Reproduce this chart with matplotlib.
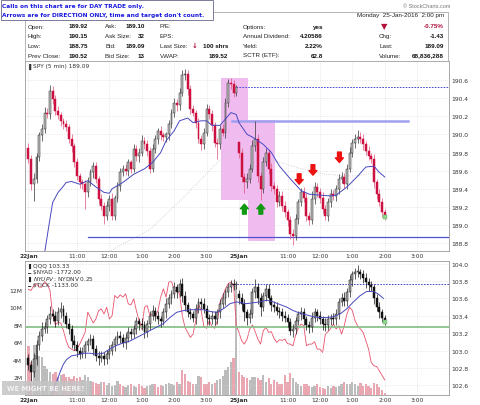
import numpy as np
import matplotlib
matplotlib.use('Agg')
import matplotlib.pyplot as plt
from matplotlib.patches import Rectangle

# ---------------- DATA ----------------
# SPY 5-min closes, 22 Jan (9:30-15:55) and 25 Jan (9:30-14:00)
spy_close_jan22 = [
    189.73, 189.45, 189.51, 189.75, 189.99, 190.06, 190.24, 190.22, 190.48, 190.39,
    190.26, 190.21, 190.15, 190.11, 190.08, 189.95, 189.87, 189.69, 189.54, 189.47,
    189.45, 189.36, 189.47, 189.58, 189.65, 189.51, 189.29, 189.21, 189.10, 189.21,
    189.29, 189.10, 189.30, 189.43, 189.58, 189.62, 189.60, 189.69, 189.62, 189.84,
    189.76, 189.80, 189.93, 189.89, 189.82, 189.62, 189.84, 189.95, 190.04, 189.99,
    189.97, 190.00, 190.11, 190.24, 190.35, 190.32, 190.46, 190.65, 190.67, 190.50,
    190.28, 190.24, 190.13, 189.95, 189.89, 190.02, 190.28, 190.22, 190.10, 189.91,
    189.89, 190.06, 190.02, 190.35, 190.57, 190.56, 190.46, 190.52]
spy_close_jan25 = [
    189.80, 189.53, 189.47, 189.51, 189.62, 189.87, 189.95, 189.54, 189.40, 189.69,
    189.80, 189.62, 189.43, 189.40, 189.25, 189.32, 189.21, 189.14, 189.05, 188.90,
    188.88, 189.07, 189.25, 189.36, 189.30, 189.10, 189.05, 189.29, 189.42, 189.36,
    189.30, 189.18, 189.10, 189.25, 189.34, 189.32, 189.40, 189.51, 189.53, 189.45,
    189.62, 189.80, 189.91, 189.95, 189.97, 189.95, 189.89, 189.82, 189.76, 189.73,
    189.47, 189.34, 189.25, 189.14, 189.09]
spy_day_open = [189.85, 189.92]
spy_wick_up = [
    .05, .04, .06, .05, .04, .05, .06, .05, .07, .05,
    .04, .05, .04, .03, .05, .04, .05, .04, .05, .03,
    .04, .05, .06, .04, .05, .04, .03, .05, .04, .05,
    .04, .06, .03, .04, .05, .04, .05, .04, .03, .05,
    .04, .05, .06, .04, .05, .04, .05, .04, .03, .05,
    .04, .03, .05, .04, .05, .04, .05, .06, .05, .04,
    .05, .04, .03, .05, .04, .05, .06, .04, .05, .04,
    .05, .04, .06, .05, .04, .05, .04, .03,
    .00, .05, .04, .06, .05, .07, .20, .05, .04, .06,
    .05, .04, .06, .05, .04, .05, .06, .05, .04, .05,
    .06, .05, .04, .05, .06, .05, .04, .08, .05, .04,
    .05, .06, .04, .05, .06, .05, .04, .05, .06, .04,
    .05, .06, .04, .05, .08, .06, .05, .04, .05, .04,
    .05, .04, .06, .05, .04]
spy_wick_dn = [
    .05, .06, .18, .05, .04, .06, .05, .04, .05, .06,
    .05, .04, .06, .05, .04, .05, .06, .05, .04, .06,
    .05, .18, .05, .04, .06, .05, .06, .05, .09, .05,
    .06, .05, .04, .05, .06, .04, .05, .06, .05, .04,
    .05, .06, .04, .05, .06, .05, .04, .05, .06, .05,
    .04, .05, .06, .04, .05, .06, .05, .04, .05, .06,
    .05, .04, .06, .05, .06, .05, .04, .05, .06, .05,
    .16, .05, .04, .06, .05, .06, .05, .04,
    .06, .05, .12, .06, .05, .04, .05, .06, .12, .05,
    .04, .06, .05, .06, .05, .04, .06, .05, .06, .05,
    .10, .05, .06, .04, .05, .06, .05, .04, .06, .05,
    .06, .05, .04, .06, .05, .04, .05, .06, .05, .04,
    .05, .04, .05, .06, .04, .05, .06, .05, .04, .05,
    .06, .05, .04, .05, .03]

# SPY moving average (blue) and slower average (dotted), sampled at bar indices
spy_ma_idx = [5.5, 8, 9, 11, 13, 14, 16, 19, 22, 25, 28, 30, 31, 35, 39, 43, 46, 49, 51, 54,
              56, 59, 61, 64, 66, 68, 71, 73, 75, 77, 78, 81, 83, 87, 90, 93, 97, 101, 104,
              108, 112, 114, 118, 122, 125, 128, 130, 132]
spy_ma_val = [188.60, 189.07, 189.25, 189.36, 189.43, 189.47, 189.48, 189.45, 189.49, 189.42,
              189.36, 189.35, 189.40, 189.47, 189.56, 189.62, 189.69, 189.80, 189.93, 190.04,
              190.15, 190.18, 190.13, 190.15, 190.15, 190.10, 190.10, 190.17, 190.24, 190.22,
              190.13, 190.00, 189.97, 189.89, 189.80, 189.65, 189.51, 189.38, 189.34, 189.33,
              189.32, 189.33, 189.42, 189.54, 189.64, 189.65, 189.58, 189.53]
spy_slow_idx = [30, 45, 57, 70, 76, 80, 90, 100, 110, 120, 130]
spy_slow_val = [188.71, 188.95, 189.29, 189.69, 189.84, 189.80, 189.72, 189.63, 189.56, 189.54, 189.58]

spy_prev_close = 190.52
spy_day_high = 190.15
spy_support = 188.87

# highlight boxes: (start idx, end idx, low, high)
box_x0 = [71.3, 81.3]
box_x1 = [81.3, 91.3]
box_lo = [189.28, 188.82]
box_hi = [190.62, 190.16]

# arrows (bar index, tip price)
down_arrow_idx = [100.3, 105.4, 115.2]
down_arrow_tip = [189.45, 189.55, 189.69]
up_arrow_idx = [80.0, 86.1]
up_arrow_tip = [189.23, 189.23]

# QQQ 5-min closes
qqq_close_jan22 = [
    102.84, 102.75, 102.90, 103.06, 103.17, 103.25, 103.27, 103.36, 103.42, 103.40,
    103.34, 103.44, 103.48, 103.40, 103.31, 103.25, 103.11, 103.06, 103.00, 102.96,
    102.98, 103.06, 103.11, 103.13, 103.02, 102.94, 102.92, 102.94, 102.90, 102.96,
    103.00, 103.06, 103.13, 103.17, 103.15, 103.09, 103.15, 103.21, 103.19, 103.25,
    103.34, 103.31, 103.29, 103.21, 103.31, 103.40, 103.46, 103.40, 103.36, 103.34,
    103.44, 103.54, 103.61, 103.65, 103.73, 103.67, 103.77, 103.63, 103.52, 103.44,
    103.42, 103.38, 103.48, 103.56, 103.54, 103.48, 103.38, 103.36, 103.40, 103.36,
    103.44, 103.54, 103.60, 103.67, 103.73, 103.77, 103.75, 103.77]
qqq_close_jan25 = [
    103.60, 103.54, 103.44, 103.38, 103.42, 103.67, 103.73, 103.60, 103.50, 103.63,
    103.71, 103.60, 103.52, 103.50, 103.46, 103.44, 103.40, 103.38, 103.33, 103.23,
    103.25, 103.34, 103.42, 103.44, 103.36, 103.29, 103.27, 103.38, 103.44, 103.40,
    103.36, 103.31, 103.29, 103.36, 103.38, 103.36, 103.42, 103.56, 103.61, 103.57,
    103.67, 103.81, 103.88, 103.90, 103.90, 103.88, 103.83, 103.79, 103.75, 103.73,
    103.60, 103.50, 103.44, 103.38, 103.33]
qqq_day_open = [102.92, 103.65]
qqq_wick_up = [
    .04, .05, .07, .06, .05, .08, .06, .05, .09, .06,
    .05, .06, .08, .05, .04, .06, .05, .07, .05, .04,
    .06, .05, .04, .06, .05, .04, .05, .06, .04, .05,
    .06, .05, .04, .05, .06, .04, .05, .06, .05, .04,
    .05, .04, .06, .05, .04, .05, .06, .04, .05, .04,
    .05, .06, .04, .05, .06, .04, .05, .07, .05, .04,
    .05, .04, .06, .05, .04, .06, .05, .04, .06, .05,
    .04, .05, .06, .04, .05, .04, .05, .03,
    .05, .06, .05, .04, .06, .05, .09, .05, .06, .04,
    .05, .06, .04, .05, .06, .04, .05, .06, .04, .05,
    .06, .05, .04, .06, .05, .04, .05, .06, .05, .04,
    .05, .04, .06, .05, .04, .05, .06, .04, .05, .06,
    .05, .06, .04, .05, .08, .04, .05, .06, .04, .05,
    .04, .05, .06, .04, .03]
qqq_wick_dn = [
    .06, .10, .05, .07, .05, .06, .05, .07, .05, .06,
    .07, .05, .06, .07, .05, .06, .08, .05, .07, .06,
    .05, .07, .06, .05, .07, .06, .09, .05, .06, .05,
    .06, .05, .07, .05, .06, .05, .07, .05, .06, .05,
    .06, .07, .05, .06, .05, .07, .05, .06, .05, .07,
    .05, .06, .05, .07, .05, .06, .05, .07, .06, .05,
    .06, .05, .07, .05, .06, .05, .07, .06, .05, .06,
    .05, .06, .05, .07, .05, .06, .05, .04,
    .06, .07, .10, .08, .06, .05, .07, .06, .10, .05,
    .06, .05, .07, .06, .05, .07, .06, .05, .06, .05,
    .07, .06, .05, .07, .06, .05, .07, .06, .05, .06,
    .05, .07, .06, .05, .06, .05, .07, .06, .05, .06,
    .06, .05, .07, .06, .05, .06, .05, .07, .06, .05,
    .06, .05, .06, .05, .03]

# QQQ volume (millions)
qqq_volume = [
    5.6, 3.8, 5.7, 4.6, 4.5, 4.3, 3.3, 3.0, 2.6, 2.4,
    2.6, 2.0, 2.3, 2.4, 2.1, 2.0, 1.8, 2.2, 1.9, 2.0,
    1.7, 2.3, 2.0, 1.6, 1.5, 1.4, 1.3, 1.5, 1.5, 1.1,
    1.4, 1.0, 1.1, 1.6, 1.2, 1.0, 0.9, 1.1, 1.2, 1.0,
    0.9, 1.2, 1.0, 0.8, 1.0, 1.1, 1.2, 1.3, 0.9, 1.1,
    1.0, 1.2, 1.4, 1.2, 1.1, 1.5, 1.3, 2.9, 2.4, 1.6,
    1.5, 1.3, 1.2, 2.2, 2.0, 1.2, 1.3, 1.5, 1.2, 1.4,
    1.7, 1.8, 2.2, 2.8, 3.2, 3.8, 4.2, 12.4,
    2.6, 2.3, 2.1, 1.9, 1.7, 2.1, 2.1, 1.9, 1.7, 2.3,
    1.5, 1.9, 1.3, 1.7, 1.5, 1.2, 1.3, 2.3, 1.5, 2.5,
    1.9, 1.5, 1.2, 1.0, 1.3, 1.2, 1.0, 0.9, 1.0, 1.2,
    0.9, 0.8, 0.7, 1.0, 0.8, 1.0, 0.9, 1.0, 1.2, 1.5,
    1.3, 1.2, 1.5, 1.2, 1.0, 1.4, 1.0, 1.2, 1.0, 0.8,
    1.4, 1.2, 0.9, 0.6, 0.2]

# $NYAD overlay (red line)
nyad = [
    523, 498, 625, 668, 583, 583, 727, 642, 498, -140,
    -378, -310, -327, -523, -778, -948, -990, -1033, -990, -863,
    -718, -565, -55, -183, -327, -225, -13, 30, -98, 72,
    -225, -140, 370, 302, 387, 328, 413, 158, 132, 285,
    -13, -268, -480, 72, 115, -140, -98, -166, -13, 328,
    540, 328, 710, 727, 498, 498, 413, -140, -438, -565,
    -693, -608, -268, 158, -13, -412, -463, -268, -412, -463,
    -268, 200, 370, 540, 668, 710, 642, -395,
    -565, -778, -863, -735, -480, -378, -548, -735, -863, -523,
    -438, -565, -548, -718, -820, -752, -769, -735, -854, -863,
    -905, -633, -463, -353, -395, -905, -863, -863, -803, -990,
    -990, -1075, -608, -548, -463, -353, -480, -395, -608, -395,
    -98, 72, -13, -268, -412, -480, -565, -778, -990, -1330,
    -1415, -1432, -1543, -1653, -1772]

# QQQ moving average (blue), sampled
qqq_ma_idx = [8.6, 9.2, 10.5, 11.7, 12.9, 14.2, 16.0, 17.9, 20.3, 22.8, 25.3, 27.7, 30.2, 32.7,
              35.2, 37.6, 40.1, 42.6, 45.0, 47.5, 50.0, 52.4, 54.9, 57.4, 59.9, 62.3, 64.8,
              67.3, 69.7, 72.2, 74.7, 77.1, 80.8, 83.3, 85.8, 88.3, 90.7, 93.2, 95.7, 98.1,
              100.6, 103.1, 105.5, 108.0, 110.5, 113.0, 115.4, 117.9, 120.4, 122.8, 125.3,
              127.8, 129.6, 131.5]
qqq_ma_val = [102.49, 102.55, 102.65, 102.75, 102.84, 102.90, 102.94, 102.95, 102.97, 102.97,
              102.96, 102.97, 103.02, 103.06, 103.09, 103.11, 103.15, 103.19, 103.23, 103.27,
              103.31, 103.38, 103.44, 103.46, 103.47, 103.47, 103.47, 103.45, 103.44, 103.48,
              103.54, 103.56, 103.54, 103.55, 103.56, 103.58, 103.56, 103.53, 103.50, 103.46,
              103.43, 103.41, 103.39, 103.38, 103.38, 103.39, 103.42, 103.48, 103.56, 103.63,
              103.68, 103.68, 103.65, 103.60]
qqq_prev_close = 103.77
qqq_level = 103.27

tick_idx = [0, 18, 30, 42, 54, 66, 78, 96, 108, 120, 132, 144]
tick_lbl = ['22Jan', '11:00', '12:00', '1:00', '2:00', '3:00',
            '25Jan', '11:00', '12:00', '1:00', '2:00', '3:00']
spy_yticks = [188.8, 189.0, 189.2, 189.4, 189.6, 189.8, 190.0, 190.2, 190.4, 190.6]
qqq_yticks = [102.6, 102.8, 103.0, 103.2, 103.4, 103.6, 103.8, 104.0]
vol_yticks = [2, 4, 6, 8, 10, 12]

# ---------------- BUILD ----------------
def build_ohlc(c22, c25, day_open, wu, wd):
    c = np.array(c22 + c25, dtype=float)
    o = np.empty_like(c)
    o[1:] = c[:-1]
    o[0] = day_open[0]
    o[len(c22)] = day_open[1]
    h = np.maximum(o, c) + np.array(wu)
    l = np.minimum(o, c) - np.array(wd)
    return o, h, l, c

spy_o, spy_h, spy_l, spy_c = build_ohlc(spy_close_jan22, spy_close_jan25, spy_day_open,
                                         spy_wick_up, spy_wick_dn)
qqq_o, qqq_h, qqq_l, qqq_c = build_ohlc(qqq_close_jan22, qqq_close_jan25, qqq_day_open,
                                         qqq_wick_up, qqq_wick_dn)
xi = np.arange(len(spy_c))

W, H = 480.0, 406.0
def fx(px): return px / W
def fy(py): return 1 - py / H

fig = plt.figure(figsize=(4.8, 4.06), dpi=100, facecolor='white')
XLIM = (-1.26, 155.8)
TFS = 4.3
SPINE = '#9a9a9a'

def draw_candles(ax, o, h, l, c, up_face, up_edge, dn_face, dn_edge, up_wick, dn_wick, z=3):
    up = c >= o
    ax.vlines(xi[up], l[up], h[up], colors=up_wick, lw=0.5, zorder=z)
    ax.vlines(xi[~up], l[~up], h[~up], colors=dn_wick, lw=0.5, zorder=z)
    bh = np.maximum(np.abs(c - o), 0.012)
    bb = np.minimum(o, c)
    ax.bar(xi[up], bh[up], bottom=bb[up], width=0.72, color=up_face,
           edgecolor=up_edge, linewidth=0.35, zorder=z + 0.1)
    ax.bar(xi[~up], bh[~up], bottom=bb[~up], width=0.72, color=dn_face,
           edgecolor=dn_edge, linewidth=0.35, zorder=z + 0.1)

def style_x(ax):
    ax.set_xlim(*XLIM)
    ax.set_xticks(tick_idx)
    ax.set_xticklabels(tick_lbl)
    ax.tick_params(axis='x', length=0, pad=1.2, labelsize=TFS, labelcolor='#333333')
    for t in ax.get_xticklabels():
        if 'Jan' in t.get_text():
            t.set_fontweight('bold')
    ax.grid(axis='x', color='#d8d8d8', ls=':', lw=0.5)
    for s in ax.spines.values():
        s.set_color(SPINE)
        s.set_linewidth(0.6)

# ---------- upper panel (SPY) ----------
ax1 = fig.add_axes([fx(25), fy(252), fx(449) - fx(25), fy(62) - fy(252)])
style_x(ax1)
ax1.set_ylim(188.713, 190.81)
ax1.yaxis.tick_right()
ax1.set_yticks(spy_yticks)
ax1.set_yticklabels(['%.1f' % v for v in spy_yticks])
ax1.tick_params(axis='y', length=0, pad=2, labelsize=TFS, labelcolor='#333333')
ax1.grid(axis='y', color='#d8d8d8', ls=':', lw=0.5)
ax1.set_axisbelow(True)

for x0, x1, lo, hi in zip(box_x0, box_x1, box_lo, box_hi):
    ax1.add_patch(Rectangle((x0, lo), x1 - x0, hi - lo, facecolor='#f0bcf0',
                            edgecolor='none', zorder=1))

ax1.plot(spy_slow_idx, spy_slow_val, color='#c8c8c8', lw=0.6, ls=':', zorder=2)
ax1.plot([22, XLIM[1]], [spy_support] * 2, color='#5050d0', lw=0.9, zorder=2)
ax1.plot([75.4, 140.6], [spy_day_high] * 2, color='#a0a0f0', lw=1.8, zorder=2)
ax1.plot([77, XLIM[1]], [spy_prev_close] * 2, color='#3030d0', lw=0.6, ls=(0, (2, 1.5)), zorder=2)

draw_candles(ax1, spy_o, spy_h, spy_l, spy_c, '#bdbdbd', '#2a2a2a', '#cc1040', '#cc1040',
             '#333333', '#e0507a')
ax1.plot(spy_ma_idx, spy_ma_val, color='#4848c0', lw=0.7, zorder=4)
ax1.plot([xi[-1]], [spy_c[-1]], marker='s', ms=2.5, color='#8fd88f', mec='#5fb05f',
         mew=0.3, zorder=6)

for xa, ya in zip(down_arrow_idx, down_arrow_tip):
    ax1.annotate('', xy=(xa, ya), xytext=(xa, ya + 0.115),
                 arrowprops=dict(arrowstyle='simple,head_length=0.55,head_width=0.95,tail_width=0.45',
                                 mutation_scale=6, color='#ee1111', shrinkA=0, shrinkB=0),
                 zorder=7)
for xa, ya in zip(up_arrow_idx, up_arrow_tip):
    ax1.annotate('', xy=(xa, ya), xytext=(xa, ya - 0.11),
                 arrowprops=dict(arrowstyle='simple,head_length=0.55,head_width=0.95,tail_width=0.45',
                                 mutation_scale=6, color='#119911', shrinkA=0, shrinkB=0),
                 zorder=7)

# ---------- lower panel (QQQ) ----------
ax2 = fig.add_axes([fx(25), fy(396), fx(449) - fx(25), fy(262) - fy(396)])
style_x(ax2)
ax2.set_ylim(0, 15.3)
ax2.set_yticks(vol_yticks)
ax2.set_yticklabels(['%dM' % v for v in vol_yticks])
ax2.tick_params(axis='y', length=0, pad=2, labelsize=TFS, labelcolor='#333333')
ax2.set_axisbelow(True)
vol = np.array(qqq_volume)
vcol = np.where(qqq_c < qqq_o, '#eaa7b2', '#bcbcbc')
ax2.bar(xi, vol, width=0.82, color=vcol, edgecolor='none', zorder=2)

axr = ax2.twinx()
axr.set_xlim(*XLIM)
axr.set_ylim(-2154.5, 1245.5)
axr.set_yticks([])
axr.plot(xi, nyad, color='#e8506a', lw=0.6, zorder=3)
for s in axr.spines.values():
    s.set_visible(False)

axp = ax2.twinx()
axp.set_xlim(*XLIM)
axp.set_ylim(102.49, 104.03)
axp.set_yticks(qqq_yticks)
axp.set_yticklabels(['%.1f' % v for v in qqq_yticks])
axp.tick_params(axis='y', length=0, pad=2, labelsize=TFS, labelcolor='#333333')
axp.grid(axis='y', color='#d8d8d8', ls=':', lw=0.5)
for s in axp.spines.values():
    s.set_visible(False)
axp.plot([XLIM[0], XLIM[1]], [qqq_level] * 2, color='#8cc08c', lw=1.3, zorder=2)
axp.plot([75, XLIM[1]], [qqq_prev_close] * 2, color='#3030d0', lw=0.6, ls=(0, (2, 1.5)), zorder=2)
draw_candles(axp, qqq_o, qqq_h, qqq_l, qqq_c, '#a8a8a8', '#111111', '#111111', '#111111',
             '#222222', '#111111')
axp.plot(qqq_ma_idx, qqq_ma_val, color='#4848c0', lw=0.7, zorder=4)
axp.plot([xi[-1]], [qqq_c[-1]], marker='s', ms=2.5, color='#8fd88f', mec='#5fb05f',
         mew=0.3, zorder=6)

# ---------- header ----------
HF = 4.5
fig.patches.append(Rectangle((fx(25), fy(62)), fx(448) - fx(25), fy(13) - fy(62),
                             transform=fig.transFigure, facecolor='white',
                             edgecolor='#a8a8a8', lw=0.6, zorder=0))
fig.patches.append(Rectangle((fx(0.5), fy(21)), fx(212), fy(0.5) - fy(21),
                             transform=fig.transFigure, facecolor='white',
                             edgecolor='#7a7a9a', lw=0.7, zorder=5))
fig.text(fx(2), fy(6.5), 'Calls on this chart are for DAY TRADE only.', color='#1a1ae0',
         fontsize=4.2, fontweight='bold', va='center', ha='left', family='DejaVu Sans', zorder=6)
fig.text(fx(2), fy(15.5), "Arrows are for DIRECTION ONLY, time and target don't count.",
         color='#1a1ae0', fontsize=4.2, fontweight='bold', va='center', ha='left',
         family='DejaVu Sans', zorder=6)
fig.text(fx(450), fy(6), '\u00a9 StockCharts.com', color='#777777', fontsize=4,
         ha='right', va='center', family='Liberation Sans')
fig.text(fx(444), fy(16), 'Monday  25-Jan-2016  2:00 pm', color='#222222', fontsize=HF,
         ha='right', va='center', family='Liberation Sans')

rows_y = [27, 36.5, 46, 56]
left_lbl = ['Open:', 'High:', 'Low:', 'Prev Close:']
left_val = ['189.92', '190.15', '188.75', '190.52']
mid_lbl = ['Ask:', 'Ask Size:', 'Bid:', 'Bid Size:']
mid_val = ['189.10', '32', '189.09', '13']
r3_lbl = ['P/E:', 'EPS:', 'Last Size:', 'VWAP:']
r3_val = ['', '', '100 shrs', '189.52']
r4_lbl = ['Options:', 'Annual Dividend:', 'Yield:', 'SCTR (ETF):']
r4_val = ['yes', '4.20586', '2.22%', '62.8']
r5_lbl = ['', 'Chg:', 'Last:', 'Volume:']
r5_val = ['-0.75%', '-1.43', '189.09', '68,836,288']

def row_text(xl, labels, xv, values, vcolors=None):
    for k, (yy, lb, vv) in enumerate(zip(rows_y, labels, values)):
        if lb:
            fig.text(fx(xl), fy(yy), lb, fontsize=HF, color='#222222', ha='left',
                     va='center', family='Liberation Sans')
        if vv:
            col = vcolors[k] if vcolors else '#111111'
            fig.text(fx(xv), fy(yy), vv, fontsize=HF, color=col, ha='right',
                     va='center', fontweight='bold', family='Liberation Sans')

row_text(28, left_lbl, 88, left_val)
row_text(105, mid_lbl, 145, mid_val)
row_text(160, r3_lbl, 228, r3_val)
row_text(243, r4_lbl, 323, r4_val)
row_text(379, r5_lbl, 444, r5_val, ['#b0103a', '#111111', '#111111', '#111111'])
fig.text(fx(194.5), fy(46), '\u2193', fontsize=5, color='#b0103a', ha='center', va='center',
         fontweight='bold', family='DejaVu Sans')
fig.text(fx(384), fy(26.5), '\u25bc', fontsize=6, color='#b0103a', ha='center', va='center',
         family='DejaVu Sans')

# panel legends
fig.text(fx(27), fy(66.5), '\u2590', fontsize=4, color='#333333', ha='left', va='center',
         family='DejaVu Sans')
fig.text(fx(33), fy(66.5), 'SPY (5 min) 189.09', fontsize=4.2, color='#333333', ha='left',
         va='center', family='DejaVu Sans')
leg_y = [266, 272.5, 279, 285.5]
leg_txt = ['QQQ 103.33', '$NYAD -1772.00', '$NYUPV:$NYDNV 0.25', '$TICK -1133.00']
leg_icon = ['\u2590', '\u2501', '\u2590', '\u2501']
for yy, tt, ic in zip(leg_y, leg_txt, leg_icon):
    fig.text(fx(27), fy(yy), ic, fontsize=3.8, color='#222222', ha='left', va='center',
             family='DejaVu Sans')
    fig.text(fx(33), fy(yy), tt, fontsize=4.2, color='#333333', ha='left', va='center',
             family='DejaVu Sans')

# watermark
fig.patches.append(Rectangle((fx(2), fy(396)), fx(90) - fx(2), fy(382) - fy(396),
                             transform=fig.transFigure, facecolor='#c4c4c4', alpha=0.85,
                             edgecolor='none', zorder=8))
fig.text(fx(46), fy(389), 'WE MIGHT BE HERE!', fontsize=4.9, color='#f2f2f2',
         fontweight='bold', ha='center', va='center', family='DejaVu Sans', zorder=9)

fig.savefig('out.png', dpi=100, facecolor='white')
